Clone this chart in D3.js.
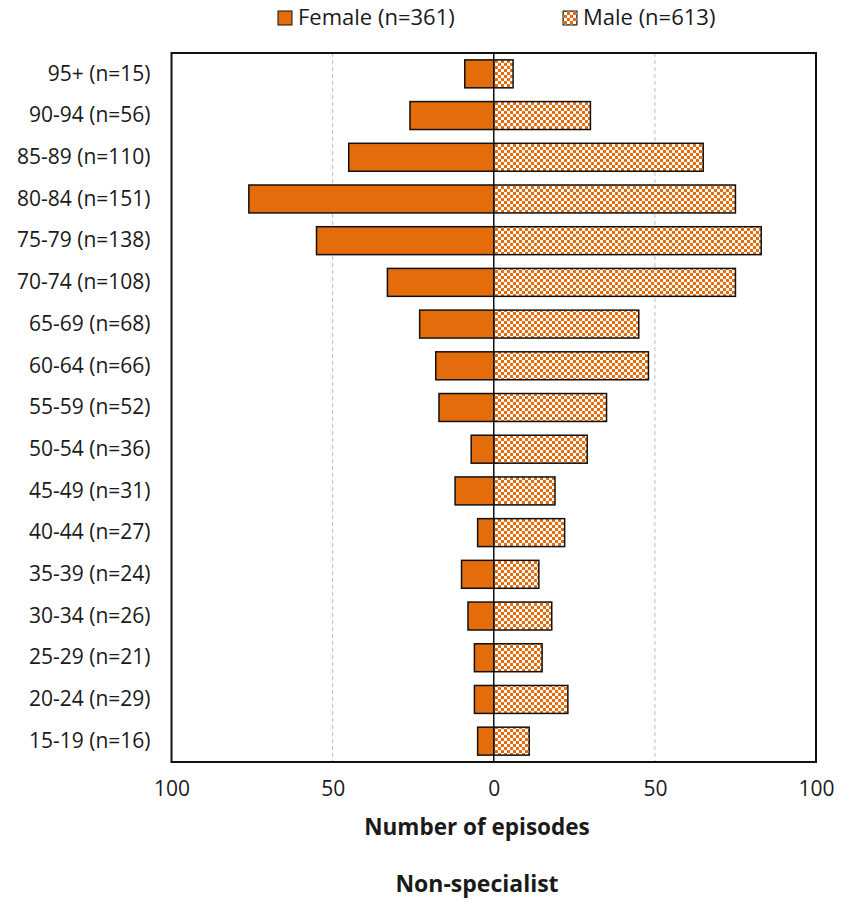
<!DOCTYPE html>
<html><head><meta charset="utf-8">
<script src="https://cdn.jsdelivr.net/npm/d3@7"></script>
<style>body{margin:0;background:#fff;} text{font-family:"Open Sans",sans-serif;fill:#1a1a1a;}</style>
</head><body>
<svg id="c" width="846" height="901"></svg>
<script>
const categories = ["95+ (n=15)","90-94 (n=56)","85-89 (n=110)","80-84 (n=151)","75-79 (n=138)","70-74 (n=108)","65-69 (n=68)","60-64 (n=66)","55-59 (n=52)","50-54 (n=36)","45-49 (n=31)","40-44 (n=27)","35-39 (n=24)","30-34 (n=26)","25-29 (n=21)","20-24 (n=29)","15-19 (n=16)"];
const female = [9,26,45,76,55,33,23,18,17,7,12,5,10,8,6,6,5];
const male = [6,30,65,75,83,75,45,48,35,29,19,22,14,18,15,23,11];
const xTicks = [-100,-50,0,50,100];
const seriesNames = ["Female (n=361)","Male (n=613)"];
const xTitle = "Number of episodes";
const chartTitle = "Non-specialist";

const orange = "#E46C0A";
const FONT = "'Open Sans', sans-serif";
const svg = d3.select("#c");
const m = {l:171.5, r:816, t:53, b:762};
const x = d3.scaleLinear().domain([-100,100]).range([m.l,m.r]);
const y = d3.scaleBand().domain(categories).range([m.t,m.b]).paddingInner(0.33).paddingOuter(0.165);

const defs = svg.append("defs");
const pat = defs.append("pattern").attr("id","chk").attr("patternUnits","userSpaceOnUse").attr("width",6).attr("height",6);
pat.append("rect").attr("width",6).attr("height",6).attr("fill",orange);
pat.append("rect").attr("width",3).attr("height",3).attr("fill","#fff");
pat.append("rect").attr("x",3).attr("y",3).attr("width",3).attr("height",3).attr("fill","#fff");

// gridlines
svg.append("g").selectAll("line").data([-50,50]).join("line")
  .attr("x1",d=>x(d)).attr("x2",d=>x(d)).attr("y1",m.t).attr("y2",m.b)
  .attr("stroke","#bdbdbd").attr("stroke-width",1).attr("stroke-dasharray","4,3");

// bars
svg.append("g").selectAll("rect").data(categories).join("rect")
  .attr("x",(d,i)=>x(-female[i])).attr("width",(d,i)=>x(0)-x(-female[i]))
  .attr("y",d=>y(d)).attr("height",y.bandwidth())
  .attr("fill",orange).attr("stroke","#111").attr("stroke-width",1.5);
svg.append("g").selectAll("rect").data(categories).join("rect")
  .attr("x",x(0)).attr("width",(d,i)=>x(male[i])-x(0))
  .attr("y",d=>y(d)).attr("height",y.bandwidth())
  .attr("fill","url(#chk)").attr("stroke","#111").attr("stroke-width",1.5);

// zero line
svg.append("line").attr("x1",x(0)).attr("x2",x(0)).attr("y1",m.t).attr("y2",m.b).attr("stroke","#111").attr("stroke-width",1.5);

// frame
svg.append("rect").attr("x",m.l).attr("y",m.t).attr("width",m.r-m.l).attr("height",m.b-m.t)
  .attr("fill","none").attr("stroke","#111").attr("stroke-width",2);

// y labels
const ya = svg.append("g").attr("transform",`translate(${m.l},0)`)
  .call(d3.axisLeft(y).tickSize(0).tickPadding(21));
ya.select(".domain").remove();
ya.selectAll("text").style("font-family",FONT).style("font-size","21px").attr("fill","#1a1a1a");

// x axis
const xa = svg.append("g").attr("transform",`translate(0,${m.b})`)
  .call(d3.axisBottom(x).tickValues(xTicks).tickFormat(d=>Math.abs(d)).tickSize(0).tickPadding(19));
xa.select(".domain").remove();
xa.selectAll("text").style("font-family",FONT).style("font-size","21px").attr("fill","#1a1a1a");

svg.append("text").attr("x",477).attr("y",835).attr("text-anchor","middle")
  .style("font-size","22.5px").style("font-weight","bold").text(xTitle);
svg.append("text").attr("x",477).attr("y",892).attr("text-anchor","middle")
  .style("font-size","23px").style("font-weight","bold").text(chartTitle);

// legend
const leg = [{x:278, fill:orange},{x:563, fill:"url(#chk)"}];
leg.forEach((l,i)=>{
  svg.append("rect").attr("x",l.x).attr("y",11).attr("width",14).attr("height",14)
    .attr("fill",l.fill).attr("stroke","#111").attr("stroke-width",1);
  svg.append("text").attr("x",l.x+20).attr("y",25).style("font-size","22px").text(seriesNames[i]);
});
</script>
</body></html>
